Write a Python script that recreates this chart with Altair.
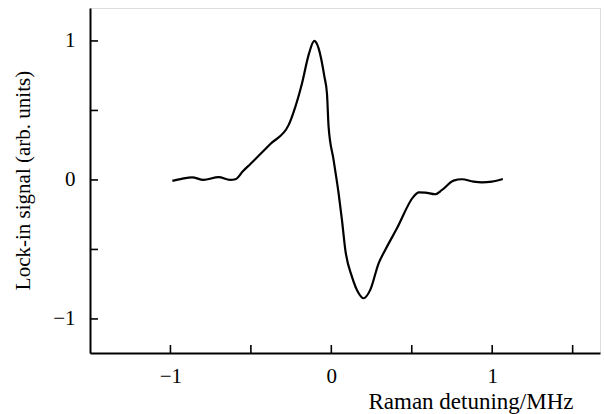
import altair as alt
import pandas as pd

# Curve
detuning = [-0.988, -0.93, -0.865, -0.795, -0.70, -0.63, -0.596, -0.55, -0.503, -0.379, -0.265,
            -0.234, -0.182, -0.141, -0.106, -0.079, -0.043, -0.027, -0.017, 0.014, 0.045,
            0.066, 0.087, 0.128, 0.17, 0.20, 0.242, 0.294, 0.335, 0.408, 0.511,
            0.543, 0.584, 0.646, 0.688, 0.76, 0.812, 0.884, 0.936, 0.998, 1.066]
signal = [-0.007, 0.008, 0.019, 0.0, 0.02, 0.0, 0.005, 0.062, 0.115, 0.258, 0.396,
          0.49, 0.696, 0.90, 1.0, 0.947, 0.743, 0.62, 0.383, 0.144, -0.094,
          -0.288, -0.504, -0.696, -0.815, -0.851, -0.791, -0.60, -0.504, -0.348, -0.12,
          -0.089, -0.091, -0.103, -0.072, -0.005, 0.005, -0.012, -0.017, -0.012, 0.007]

x_ticks = [-1, -0.5, 0, 0.5, 1, 1.5]
y_ticks = [-1, -0.5, 0, 0.5, 1]
label_values = [-1, 0, 1]

FONT = "Liberation Serif"
W, H = 510, 345

df = pd.DataFrame({"x": detuning, "y": signal})
xt = pd.DataFrame({"t": x_ticks})
yt = pd.DataFrame({"t": y_ticks})

xscale = alt.Scale(domain=[-1.5, 1.67], nice=False, zero=False)
yscale = alt.Scale(domain=[-1.245, 1.237], nice=False, zero=False)

line = alt.Chart(df).mark_line(color="black", strokeWidth=2.2, interpolate="monotone").encode(
    x=alt.X("x:Q", scale=xscale,
            axis=alt.Axis(values=label_values, ticks=False, grid=False, format="d",
                          domainColor="black", domainWidth=2,
                          labelFont=FONT, labelFontSize=21, labelColor="black",
                          labelPadding=12,
                          title="Raman detuning/MHz", titleFont=FONT, titleFontSize=23,
                          titleFontWeight="normal", titleColor="black",
                          titleX=483, titleY=55, titleAlign="right",
                          titleBaseline="alphabetic")),
    y=alt.Y("y:Q", scale=yscale,
            axis=alt.Axis(values=label_values, ticks=False, grid=False, format="d",
                          domainColor="black", domainWidth=2,
                          labelFont=FONT, labelFontSize=21, labelColor="black",
                          labelPadding=15,
                          title="Lock-in signal (arb. units)", titleFont=FONT,
                          titleFontSize=21, titleFontWeight="normal", titleColor="black",
                          titleAngle=-90, titleX=-61, titleY=172, titleAlign="center",
                          titleBaseline="alphabetic")),
)

xticks = alt.Chart(xt).mark_rule(color="black", strokeWidth=1.6).encode(
    x=alt.X("t:Q", scale=xscale),
    y=alt.value(H), y2=alt.value(H - 8),
)
yticks = alt.Chart(yt).mark_rule(color="black", strokeWidth=1.6).encode(
    y=alt.Y("t:Q", scale=yscale),
    x=alt.value(0), x2=alt.value(8),
)

chart = alt.layer(line, xticks, yticks).properties(
    width=W, height=H,
    autosize=alt.AutoSizeParams(type="none"),
    padding={"left": 90, "top": 8, "right": 4, "bottom": 61},
).configure_view(stroke=None).configure(background="white")

chart.save("out.html", embed_options={"renderer": "svg", "actions": False})
